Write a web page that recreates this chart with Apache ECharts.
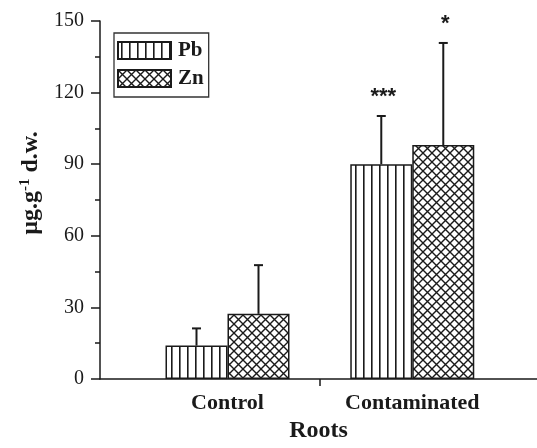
<!DOCTYPE html>
<html>
<head>
<meta charset="utf-8">
<script src="https://cdn.jsdelivr.net/npm/echarts@6/dist/echarts.min.js"></script>
<style>
    html, body { margin: 0; padding: 0; background: #fff; }
    #chart { width: 537px; height: 448px; }
</style>
</head>
<body>
<div id="chart"></div>
<script>
// data
var categories = ['Control', 'Contaminated'];
var pbValues = [14, 90];
var pbErrTop = [21.2, 110.2];
var znValues = [27.3, 98];
var znErrTop = [47.7, 140.8];
var pbStars = ['', '***'];
var znStars = ['', '*'];
var yTicks = [0, 30, 60, 90, 120, 150];

var serif = '"Liberation Serif", "DejaVu Serif", serif';
var ink = '#1a1a1a';

// hatch fills
function vlines() {
    var c = document.createElement('canvas');
    c.width = 8; c.height = 8;
    var g = c.getContext('2d');
    g.fillStyle = '#fff';
    g.fillRect(0, 0, 8, 8);
    g.fillStyle = ink;
    g.fillRect(3, 0, 1.6, 8);
    return c;
}
function xhatch() {
    var s = 9;
    var c = document.createElement('canvas');
    c.width = s; c.height = s;
    var g = c.getContext('2d');
    g.fillStyle = '#fff';
    g.fillRect(0, 0, s, s);
    g.strokeStyle = ink;
    g.lineWidth = 1.4;
    g.beginPath();
    g.moveTo(-1, -1); g.lineTo(s + 1, s + 1);
    g.moveTo(s + 1, -1); g.lineTo(-1, s + 1);
    g.stroke();
    return c;
}

function toPoints(vals) {
    return vals.map(function (v, i) { return [i + 1, v]; });
}
function toErr(vals, tops) {
    return vals.map(function (v, i) { return [i + 1, v, tops[i]]; });
}

function errRender(offset, stars) {
    return function (params, api) {
        var base = api.coord([api.value(0), api.value(1)]);
        var top = api.coord([api.value(0), api.value(2)]);
        var cx = base[0] + offset;
        var kids = [
            { type: 'line', shape: { x1: cx, y1: base[1], x2: cx, y2: top[1] },
              style: { stroke: ink, lineWidth: 2 } },
            { type: 'line', shape: { x1: cx - 4.5, y1: top[1], x2: cx + 4.5, y2: top[1] },
              style: { stroke: ink, lineWidth: 2 } }
        ];
        var s = stars[params.dataIndex];
        if (s) {
            kids.push({ type: 'text', style: {
                x: cx + 2, y: top[1] - 19, text: s, fill: ink,
                font: 'bold 22px "Liberation Sans", Arial, sans-serif',
                align: 'center', verticalAlign: 'middle'
            } });
        }
        return { type: 'group', children: kids };
    };
}

var chart = echarts.init(document.getElementById('chart'));
var pbFill = { image: vlines(), repeat: 'repeat' };
var znFill = { image: xhatch(), repeat: 'repeat' };

var option = {
    animation: false,
    backgroundColor: '#fff',
    grid: { left: 100, right: 0, top: 21, bottom: 59 },
    legend: {
        orient: 'vertical',
        left: 114, top: 33,
        data: ['Pb', 'Zn'],
        itemWidth: 53, itemHeight: 17, itemGap: 7,
        padding: [7, 5, 8, 3],
        borderColor: '#333', borderWidth: 1.3,
        icon: 'rect',
        textStyle: { fontFamily: serif, fontWeight: 'bold', fontSize: 21, color: ink, padding: [0, 0, 0, 2] }
    },
    xAxis: {
        type: 'value',
        min: 0.31, max: 2.675,
        name: 'Roots',
        nameLocation: 'middle',
        nameGap: 40,
        nameTextStyle: { fontFamily: serif, fontWeight: 'bold', fontSize: 24, color: ink },
        axisLine: { onZero: false, lineStyle: { color: ink, width: 1.5 } },
        axisTick: { customValues: [1.5], length: 7, lineStyle: { color: ink, width: 1.5 } },
        axisLabel: {
            customValues: [1, 2],
            margin: 13,
            fontFamily: serif, fontWeight: 'bold', fontSize: 22, color: ink,
            formatter: function (v) { return categories[Math.round(v) - 1]; }
        },
        splitLine: { show: false }
    },
    yAxis: {
        type: 'value',
        min: 0, max: 150, interval: 30,
        name: '{a|µg.g}{s|-1}{a| d.w.}',
        nameLocation: 'middle',
        nameGap: 55,
        nameTextStyle: {
            padding: [0, 0, 0, 34],
            rich: {
                a: { fontFamily: serif, fontWeight: 'bold', fontSize: 24, color: ink },
                s: { fontFamily: serif, fontWeight: 'bold', fontSize: 15, color: ink, padding: [0, 0, 11, 0] }
            }
        },
        axisLine: { show: true, onZero: false, lineStyle: { color: ink, width: 1.5 } },
        axisTick: { length: 9, lineStyle: { color: ink, width: 1.5 } },
        minorTick: { show: true, splitNumber: 2, length: 5, lineStyle: { color: ink, width: 1.5 } },
        axisLabel: {
            margin: 16,
            fontFamily: serif, fontSize: 20, color: ink,
            formatter: function (v) { return yTicks.indexOf(v) >= 0 ? String(v) : ''; }
        },
        splitLine: { show: false }
    },
    series: [
        {
            name: 'Pb', type: 'bar',
            data: toPoints(pbValues),
            barWidth: 62, barGap: '0%',
            itemStyle: { color: pbFill, borderColor: ink, borderWidth: 1.5 }
        },
        {
            name: 'Zn', type: 'bar',
            data: toPoints(znValues),
            barWidth: 62, barGap: '0%',
            itemStyle: { color: znFill, borderColor: ink, borderWidth: 1.5 }
        },
        {
            type: 'custom', name: 'Pb err',
            renderItem: errRender(-31, pbStars),
            data: toErr(pbValues, pbErrTop),
            z: 5
        },
        {
            type: 'custom', name: 'Zn err',
            renderItem: errRender(31, znStars),
            data: toErr(znValues, znErrTop),
            z: 5
        }
    ]
};

chart.setOption(option);
</script>
</body>
</html>
